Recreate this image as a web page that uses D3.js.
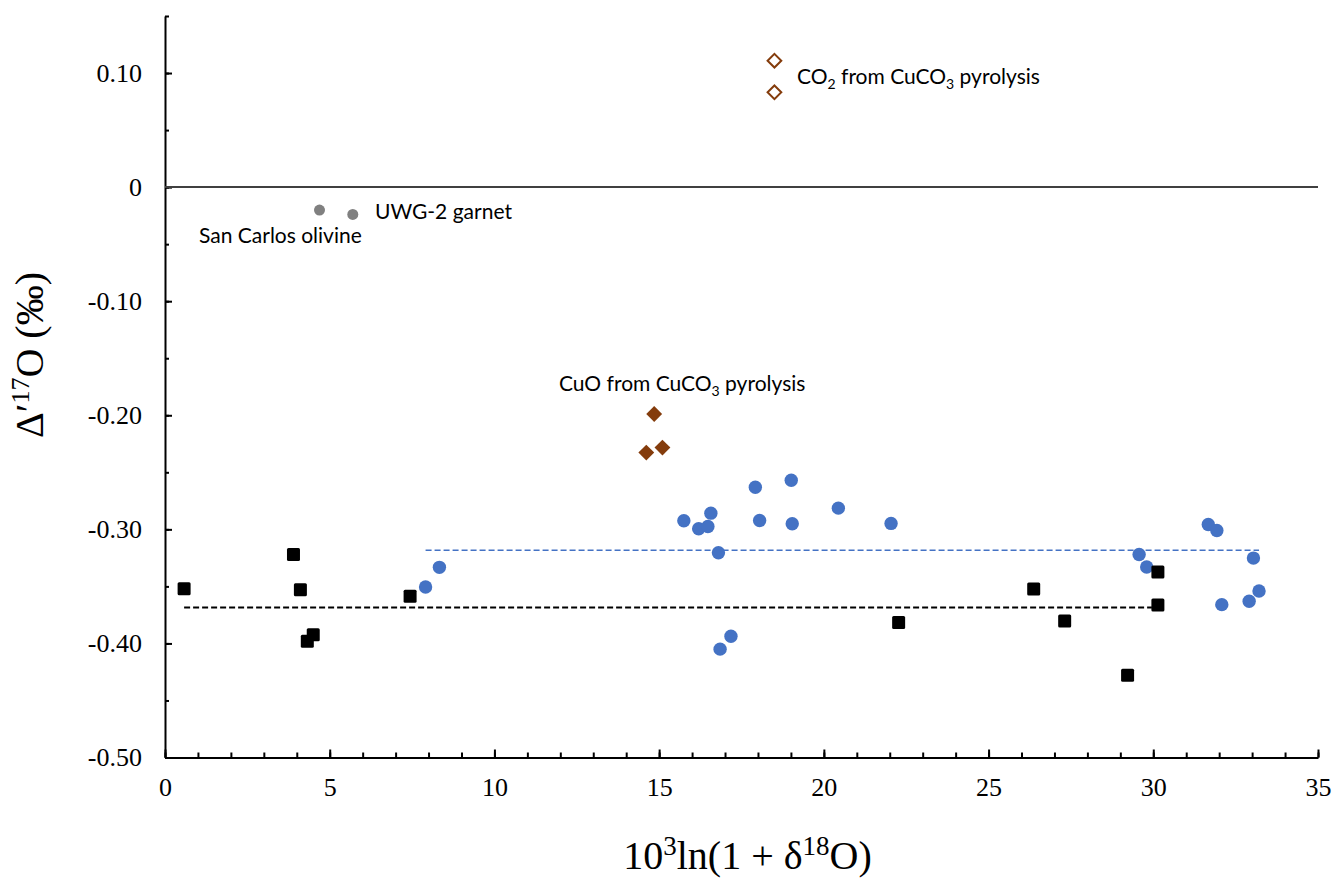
<!DOCTYPE html>
<html>
<head>
<meta charset="utf-8">
<script src="https://cdn.jsdelivr.net/npm/d3@7"></script>
<style>
  body { margin: 0; background: #fff; }
  svg { display: block; }
  .tick text { font-family: "Liberation Serif", "Times New Roman", serif; font-size: 26px; fill: #000; }
  .lbl { font-family: Lato, "Noto Sans", sans-serif; font-size: 21px; fill: #000; }
  .title { font-family: "Liberation Serif", "Times New Roman", serif; font-size: 40px; fill: #000; }
</style>
</head>
<body>
<svg id="chart"></svg>
<script>
// black squares
var sqX = [0.58, 3.9, 4.11, 4.5, 4.32, 7.44, 22.27, 26.37, 27.31, 29.22, 30.14, 30.14];
var sqY = [-0.352, -0.322, -0.353, -0.3925, -0.398, -0.3587, -0.3817, -0.3523, -0.3803, -0.4278, -0.3374, -0.3663];

// blue circles
var blueX = [7.91, 8.33, 15.75, 16.2, 16.48, 16.57, 16.8, 17.92, 18.05, 19.01, 19.04, 20.44, 22.04,
             16.85, 17.18, 29.57, 29.8, 31.67, 31.93, 33.04, 33.21, 32.91, 32.08];
var blueY = [-0.3505, -0.3333, -0.2925, -0.2995, -0.2975, -0.2858, -0.3205, -0.2631, -0.2922, -0.2569, -0.2951, -0.2814, -0.2948,
             -0.405, -0.3937, -0.322, -0.333, -0.2957, -0.301, -0.3252, -0.354, -0.363, -0.366];

// standards (grey)
var stdX = [4.69, 5.7];
var stdY = [-0.0201, -0.0239];

// CuO (filled diamonds) and CO2 (open diamonds)
var cuoX = [14.85, 14.61, 15.1];
var cuoY = [-0.1989, -0.2327, -0.2283];
var co2X = [18.5, 18.5];
var co2Y = [0.1108, 0.0831];

var xMajor = [0, 5, 10, 15, 20, 25, 30, 35];
var yMajor = [0.10, 0, -0.10, -0.20, -0.30, -0.40, -0.50];
var yLabels = ["0.10", "0", "-0.10", "-0.20", "-0.30", "-0.40", "-0.50"];

var width = 1335, height = 879;
var mLeft = 165, mRight = 1318, mTop = 16, mBottom = 757.5;
var brown = "#843c0c", blue = "#4472c4";

var svg = d3.select("#chart").attr("width", width).attr("height", height);

var x = d3.scaleLinear().domain([0, 35]).range([mLeft, mRight]);
var y = d3.scaleLinear().domain([-0.5, 0.15]).range([mBottom, mTop]);

function zip(a, b) { return a.map(function (v, i) { return [v, b[i]]; }); }

// minor ticks
svg.append("g").attr("transform", "translate(0," + mBottom + ")")
    .call(d3.axisBottom(x).tickValues(d3.range(0, 36)).tickSize(-5).tickFormat(""))
    .call(function (g) { g.select(".domain").remove(); g.selectAll("line").attr("stroke-width", 2); });
svg.append("g").attr("transform", "translate(" + mLeft + ",0)")
    .call(d3.axisLeft(y).tickValues(d3.range(-10, 4).map(function (k) { return k * 0.05; })).tickSize(-4).tickFormat(""))
    .call(function (g) { g.select(".domain").remove(); g.selectAll("line").attr("stroke-width", 2); });

// major axes
svg.append("g").attr("transform", "translate(0," + mBottom + ")")
    .call(d3.axisBottom(x).tickValues(xMajor).tickSize(-8).tickPadding(20).tickSizeOuter(0).tickFormat(d3.format("d")))
    .call(function (g) { g.select(".domain").attr("stroke-width", 2); g.selectAll("line").attr("stroke-width", 2); });
svg.append("g").attr("transform", "translate(" + mLeft + ",0)")
    .call(d3.axisLeft(y).tickValues(yMajor).tickSize(-7).tickPadding(23).tickSizeOuter(0)
        .tickFormat(function (d, i) { return yLabels[i]; }))
    .call(function (g) { g.select(".domain").attr("stroke-width", 2); g.selectAll("line").attr("stroke-width", 2); });
svg.selectAll(".tick text").attr("font-family", null).attr("font-size", null);

// zero line
svg.append("line")
    .attr("x1", x(0)).attr("x2", x(35)).attr("y1", y(0)).attr("y2", y(0))
    .attr("stroke", "#404040").attr("stroke-width", 2);

// mean lines
var sqMean = d3.mean(sqY), blueMean = d3.mean(blueY);
var sqExt = d3.extent(sqX), blueExt = d3.extent(blueX);
svg.append("line")
    .attr("x1", x(sqExt[0])).attr("x2", x(sqExt[1]) - 6).attr("y1", y(sqMean)).attr("y2", y(sqMean))
    .attr("stroke", "#000").attr("stroke-width", 2).attr("stroke-dasharray", "6,3");
svg.append("line")
    .attr("x1", x(blueExt[0])).attr("x2", x(blueExt[1])).attr("y1", y(blueMean)).attr("y2", y(blueMean))
    .attr("stroke", blue).attr("stroke-width", 1.5).attr("stroke-dasharray", "6,3");

// blue circles
svg.append("g").selectAll("circle").data(zip(blueX, blueY)).enter().append("circle")
    .attr("cx", function (d) { return x(d[0]); }).attr("cy", function (d) { return y(d[1]); })
    .attr("r", 6.7).attr("fill", blue);

// black squares
svg.append("g").selectAll("rect").data(zip(sqX, sqY)).enter().append("rect")
    .attr("x", function (d) { return x(d[0]) - 6.5; }).attr("y", function (d) { return y(d[1]) - 6.5; })
    .attr("width", 13).attr("height", 13).attr("rx", 1.5).attr("fill", "#000");

// grey standards
svg.append("g").selectAll("circle").data(zip(stdX, stdY)).enter().append("circle")
    .attr("cx", function (d) { return x(d[0]); }).attr("cy", function (d) { return y(d[1]); })
    .attr("r", 5.5).attr("fill", "#808080");

svg.append("g").selectAll("path").data(zip(cuoX, cuoY)).enter().append("path")
    .attr("transform", function (d) { return "translate(" + x(d[0]) + "," + y(d[1]) + ")"; })
    .attr("d", d3.symbol().type(d3.symbolDiamond2).size(160)).attr("fill", brown);
svg.append("g").selectAll("path").data(zip(co2X, co2Y)).enter().append("path")
    .attr("transform", function (d) { return "translate(" + x(d[0]) + "," + y(d[1]) + ")"; })
    .attr("d", d3.symbol().type(d3.symbolDiamond2).size(120))
    .attr("fill", "#fff").attr("stroke", brown).attr("stroke-width", 2);

// point labels
svg.append("text").attr("class", "lbl").attr("x", 375).attr("y", 219).text("UWG-2 garnet");
svg.append("text").attr("class", "lbl").attr("x", 199).attr("y", 243).text("San Carlos olivine");

var t1 = svg.append("text").attr("class", "lbl").attr("x", 559).attr("y", 391);
t1.append("tspan").text("CuO from CuCO");
t1.append("tspan").attr("font-size", "14px").attr("dy", 5).text("3");
t1.append("tspan").attr("dy", -5).text(" pyrolysis");

var t2 = svg.append("text").attr("class", "lbl").attr("x", 797).attr("y", 84);
t2.append("tspan").text("CO");
t2.append("tspan").attr("font-size", "14px").attr("dy", 5).text("2");
t2.append("tspan").attr("dy", -5).text(" from CuCO");
t2.append("tspan").attr("font-size", "14px").attr("dy", 5).text("3");
t2.append("tspan").attr("dy", -5).text(" pyrolysis");

// axis titles
var xt = svg.append("text").attr("class", "title").attr("x", (mLeft + mRight) / 2 + 6).attr("y", 869)
    .attr("text-anchor", "middle").attr("font-size", "41px");
xt.append("tspan").text("10");
xt.append("tspan").attr("font-size", "27px").attr("dy", -14).text("3");
xt.append("tspan").attr("dy", 14).text("ln(1 + \u03b4");
xt.append("tspan").attr("font-size", "27px").attr("dy", -14).text("18");
xt.append("tspan").attr("dy", 14).text("O)");

var yt = svg.append("text").attr("class", "title").attr("transform", "translate(43,355) rotate(-90)")
    .attr("text-anchor", "middle");
yt.append("tspan").text("\u0394\u2032");
yt.append("tspan").attr("font-size", "26px").attr("dy", -14).text("17");
yt.append("tspan").attr("dy", 14).text("O (\u2030)");
</script>
</body>
</html>
